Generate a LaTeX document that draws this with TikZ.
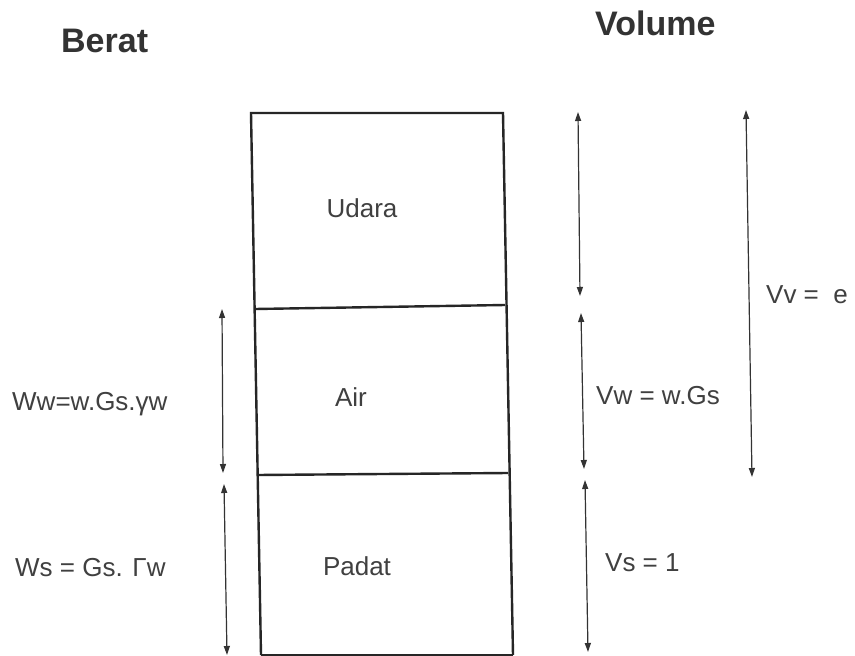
\documentclass[tikz,border=0pt]{standalone}
\usepackage{fontspec}
\setmainfont{Liberation Sans}
\usetikzlibrary{arrows.meta}
\begin{document}
\begin{tikzpicture}[x=1pt,y=-1pt,
  box/.style={line width=2.4pt, draw=black!85, line join=miter},
  dim/.style={line width=1.2pt, draw=black!80, {Triangle[length=9pt,width=6pt]}-{Triangle[length=9pt,width=6pt]}},
  title/.style={font=\bfseries\fontsize{34}{40}\selectfont, text=black!80, inner sep=0, anchor=west},
  lbl/.style={font=\fontsize{26}{30}\selectfont, text=black!75, inner sep=0, anchor=west},
]
\useasboundingbox[fill=white] (0,0) rectangle (855,656);
% box corners
\coordinate (tl) at (251,113);
\coordinate (tr) at (503,113);
\coordinate (ml1) at (255,309);
\coordinate (mr1) at (505,305);
\coordinate (ml2) at (257,475);
\coordinate (mr2) at (508,473);
\coordinate (bl) at (261,655);
\coordinate (br) at (513,655);
\draw[box] (bl) -- (tl) -- (tr) -- (br);
\draw[box] (bl) -- (br);
\draw[box] (ml1) -- (mr1);
\draw[box] (ml2) -- (mr2);
% titles
\node[title] (berat) at (61,41) {Berat};
\node[title] (volume) at (595,23) {Volume};
% phase labels
\node[lbl, anchor=center] (udara) at (362,208) {Udara};
\node[lbl, anchor=center] (air) at (351,397) {Air};
\node[lbl, anchor=center] (padat) at (357,566) {Padat};
% left dimension arrows
\coordinate (a1t) at (222,309);
\coordinate (a1b) at (223,473);
\coordinate (a2t) at (224,484);
\coordinate (a2b) at (227,655);
\draw[dim] (a1t) -- (a1b);
\draw[dim] (a2t) -- (a2b);
\node[lbl] (ww) at (12,404) {Ww=w.Gs.γw};
\node[lbl] (ws) at (15,568) {Ws = Gs. Γw};
% right dimension arrows
\coordinate (r1t) at (578,112);
\coordinate (r1b) at (580,296);
\coordinate (r2t) at (581,313);
\coordinate (r2b) at (584,469);
\coordinate (r3t) at (585,480);
\coordinate (r3b) at (588,652);
\coordinate (vvt) at (746,110);
\coordinate (vvb) at (752,477);
\draw[dim] (r1t) -- (r1b);
\draw[dim] (r2t) -- (r2b);
\draw[dim] (r3t) -- (r3b);
\draw[dim] (vvt) -- (vvb);
\node[lbl] (vw) at (596,396) {Vw = w.Gs};
\node[lbl] (vs) at (605,563) {Vs = 1};
\node[lbl] (vv) at (766,295) {Vv =\ \ e};
\end{tikzpicture}
\end{document}
